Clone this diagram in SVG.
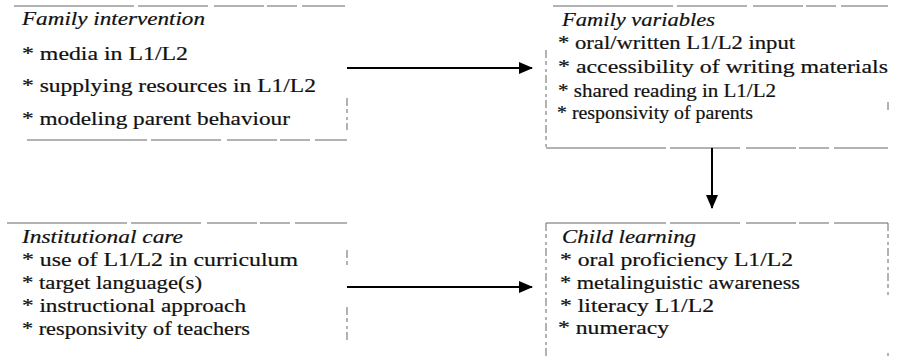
<svg xmlns="http://www.w3.org/2000/svg" width="898" height="356" viewBox="0 0 898 356">
<defs>
<style>
.edge{stroke:#666;stroke-width:1;fill:none}
.d1{stroke-dasharray:120 4 70 6 50 3 30 5}
.d2{stroke-dasharray:8 3 4 4 3 3}
.conn{stroke:#000;stroke-width:2;fill:none}
.tx{stroke:#111;stroke-width:0.2}
</style>
<marker id="ah" markerUnits="userSpaceOnUse" markerWidth="14" markerHeight="12" refX="13" refY="6" orient="auto">
<path d="M0,0 L14,6 L0,12 Z" fill="#000"/>
</marker>
</defs>
<rect width="898" height="356" fill="#fff"/>

<g id="family-intervention">
<path class="edge d1" d="M14,6 H345"/>
<path class="edge d1" d="M27,140 H347"/>
<path class="edge d2" d="M347,98 V130"/>
<text class="tx" font-family="Liberation Serif" font-size="19" font-style="italic" fill="#111" x="22" y="25" textLength="183" lengthAdjust="spacingAndGlyphs">Family intervention</text>
<text class="tx" font-family="Liberation Serif" font-size="19" fill="#111" x="22" y="60" textLength="166" lengthAdjust="spacingAndGlyphs">* media in L1/L2</text>
<text class="tx" font-family="Liberation Serif" font-size="19" fill="#111" x="22" y="92" textLength="294" lengthAdjust="spacingAndGlyphs">* supplying resources in L1/L2</text>
<text class="tx" font-family="Liberation Serif" font-size="19" fill="#111" x="22" y="125" textLength="268" lengthAdjust="spacingAndGlyphs">* modeling parent behaviour</text>
</g>

<g id="family-variables">
<path class="edge d1" d="M553,6 H888"/>
<path class="edge d2" d="M546,50 V148"/>
<path class="edge d1" d="M546,148 H888"/>
<path class="edge d2" d="M888,102 V110"/>
<text class="tx" font-family="Liberation Serif" font-size="19" font-style="italic" fill="#111" x="562" y="26" textLength="153" lengthAdjust="spacingAndGlyphs">Family variables</text>
<text class="tx" font-family="Liberation Serif" font-size="19" fill="#111" x="558" y="49" textLength="237" lengthAdjust="spacingAndGlyphs">* oral/written L1/L2 input</text>
<text class="tx" font-family="Liberation Serif" font-size="19" fill="#111" x="558" y="73" textLength="330" lengthAdjust="spacingAndGlyphs">* accessibility of writing materials</text>
<text class="tx" font-family="Liberation Serif" font-size="19" fill="#111" x="558" y="97" textLength="218" lengthAdjust="spacingAndGlyphs">* shared reading in L1/L2</text>
<text class="tx" font-family="Liberation Serif" font-size="19" fill="#111" x="557" y="119" textLength="196" lengthAdjust="spacingAndGlyphs">* responsivity of parents</text>
</g>

<g id="institutional-care">
<path class="edge d1" d="M7,223 H347"/>
<path class="edge d2" d="M347,250 V266 M347,307 V340"/>
<text class="tx" font-family="Liberation Serif" font-size="19" font-style="italic" fill="#111" x="22" y="243" textLength="161" lengthAdjust="spacingAndGlyphs">Institutional care</text>
<text class="tx" font-family="Liberation Serif" font-size="19" fill="#111" x="22" y="266" textLength="276" lengthAdjust="spacingAndGlyphs">* use of L1/L2 in curriculum</text>
<text class="tx" font-family="Liberation Serif" font-size="19" fill="#111" x="22" y="289" textLength="180" lengthAdjust="spacingAndGlyphs">* target language(s)</text>
<text class="tx" font-family="Liberation Serif" font-size="19" fill="#111" x="22" y="312" textLength="224" lengthAdjust="spacingAndGlyphs">* instructional approach</text>
<text class="tx" font-family="Liberation Serif" font-size="19" fill="#111" x="22" y="335" textLength="228" lengthAdjust="spacingAndGlyphs">* responsivity of teachers</text>
</g>

<g id="child-learning">
<path class="edge d1" d="M546,223 H888"/>
<path class="edge d2" d="M546,223 V356"/>
<path class="edge d2" d="M888,223 V295 M888,353 V356"/>
<text class="tx" font-family="Liberation Serif" font-size="19" font-style="italic" fill="#111" x="562" y="243" textLength="134" lengthAdjust="spacingAndGlyphs">Child learning</text>
<text class="tx" font-family="Liberation Serif" font-size="19" fill="#111" x="560" y="266" textLength="233" lengthAdjust="spacingAndGlyphs">* oral proficiency L1/L2</text>
<text class="tx" font-family="Liberation Serif" font-size="19" fill="#111" x="560" y="289" textLength="240" lengthAdjust="spacingAndGlyphs">* metalinguistic awareness</text>
<text class="tx" font-family="Liberation Serif" font-size="19" fill="#111" x="560" y="312" textLength="154" lengthAdjust="spacingAndGlyphs">* literacy L1/L2</text>
<text class="tx" font-family="Liberation Serif" font-size="19" fill="#111" x="558" y="334" textLength="111" lengthAdjust="spacingAndGlyphs">* numeracy</text>
</g>

<g id="connectors">
<path class="conn" d="M347,68 H532" marker-end="url(#ah)"/>
<path class="conn" d="M712,148 V208" marker-end="url(#ah)"/>
<path class="conn" d="M347,287 H532" marker-end="url(#ah)"/>
</g>
</svg>
